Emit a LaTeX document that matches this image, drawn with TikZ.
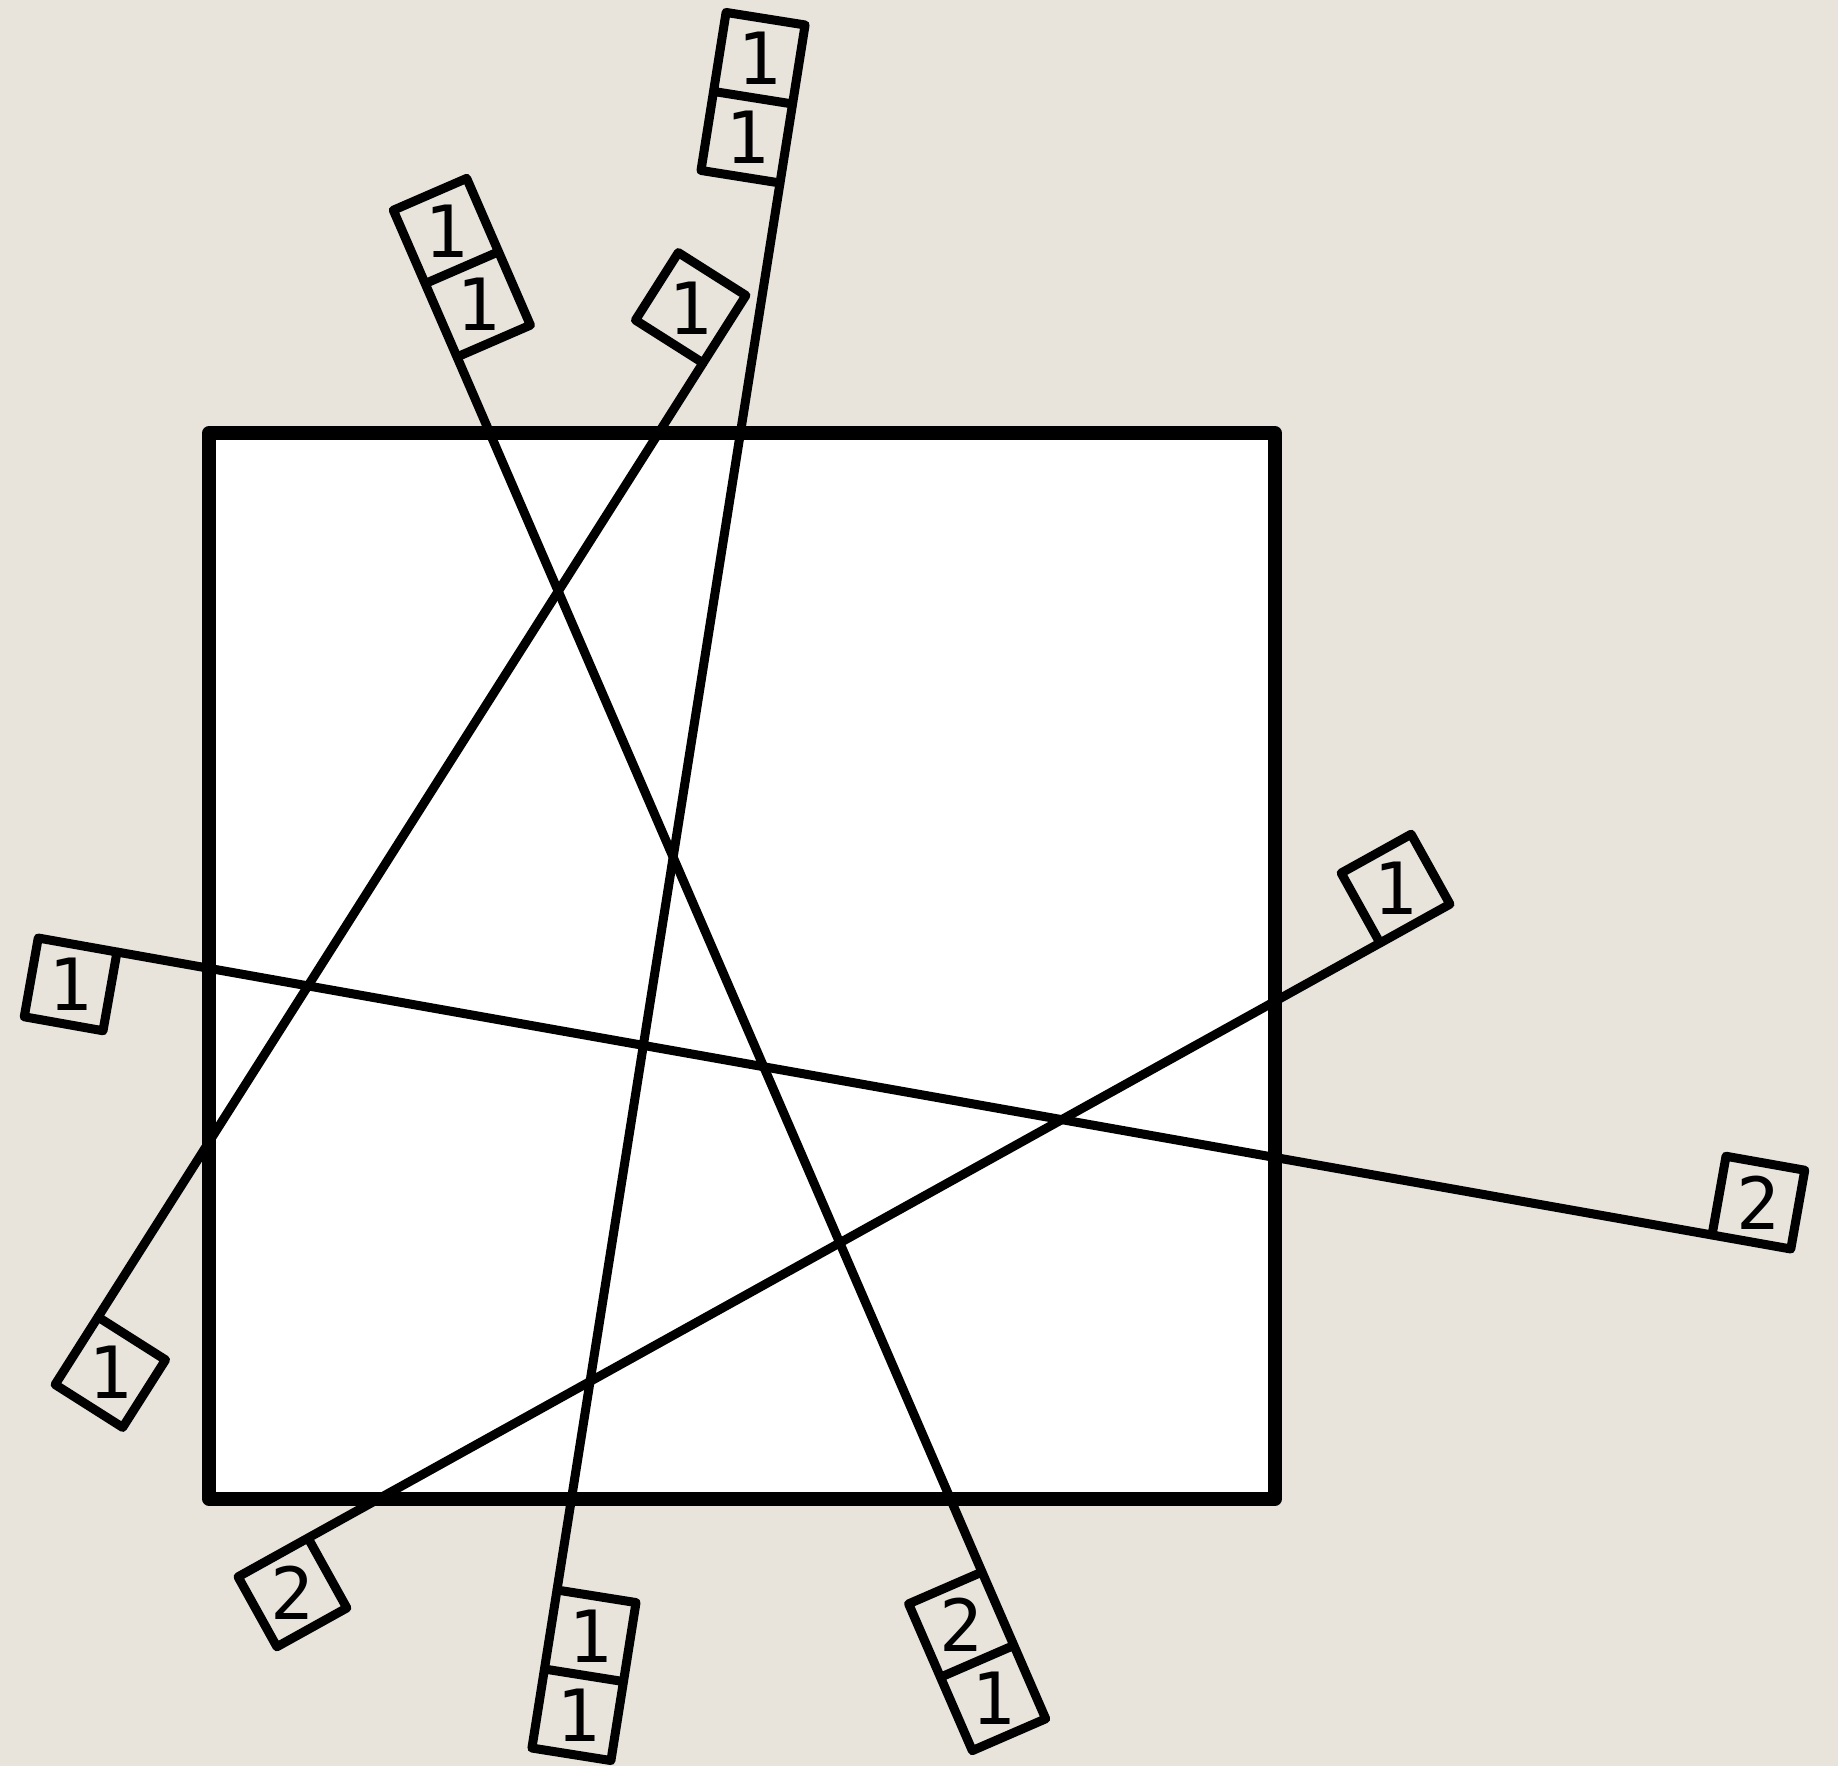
\documentclass[tikz,border=0pt]{standalone}
\usepackage{fontspec}
\newfontfamily\tagfont{DejaVu Sans Mono}
\usepackage{tikz}
\definecolor{paper}{RGB}{232,228,219}

\begin{document}
\begin{tikzpicture}[
  x=0.1mm, y=-0.1mm,
  frame/.style={draw, line width=1.35mm, line join=round, fill=white},
  wire/.style={line width=0.9mm},
  tagline/.style={draw, line width=0.9mm, line join=round},
  digit/.style={font=\tagfont\fontsize{20.5}{24}\selectfont, inner sep=0pt},
  pics/tag/.style={code={
    \draw[tagline] (0,0) rectangle (80,-80);
    \node[digit] (-a) at (40,-40) {#1};
  }},
  pics/tagtwo/.style 2 args={code={
    \draw[tagline] (0,0) rectangle (160,-80) (80,0) -- (80,-80);
    \node[digit] (-a) at (40,-40) {#1};
    \node[digit] (-b) at (120,-40) {#2};
  }}
]
\useasboundingbox (0,0) rectangle (1838,1766);
\fill[paper] (0,0) rectangle (1838,1766);

% the square
\draw[frame] (209,433) rectangle (1275,1499);

% line ends
\coordinate (a1) at (457,357);
\coordinate (a2) at (982,1572);
\coordinate (b1) at (703,363);
\coordinate (b2) at (98,1317);
\coordinate (c1) at (780,183);
\coordinate (c2) at (557,1590);
\coordinate (d1) at (117,952);
\coordinate (d2) at (1712,1235);
\coordinate (e1) at (1380,943);
\coordinate (e2) at (308,1538);

\draw[wire] (a1) -- (a2);
\draw[wire] (b1) -- (b2);
\draw[wire] (c1) -- (c2);
\draw[wire] (d1) -- (d2);
\draw[wire] (e1) -- (e2);

% tags at the ends
\pic[rotate=113.46, yscale=-1] (ta1) at (a1) {tagtwo={1}{1}};
\pic[rotate=-66.54, yscale=-1] (ta2) at (a2) {tagtwo={2}{1}};
\pic[rotate=57.6] (tb1) at (b1) {tag=1};
\pic[rotate=237.6] (tb2) at (b2) {tag=1};
\pic[rotate=80.98] (tc1) at (c1) {tagtwo={1}{1}};
\pic[rotate=-99.02] (tc2) at (c2) {tagtwo={1}{1}};
\pic[rotate=169.93] (td1) at (d1) {tag=1};
\pic[rotate=-10.07] (td2) at (d2) {tag=2};
\pic[rotate=29.04] (te1) at (e1) {tag=1};
\pic[rotate=209.04] (te2) at (e2) {tag=2};
\end{tikzpicture}
\end{document}
